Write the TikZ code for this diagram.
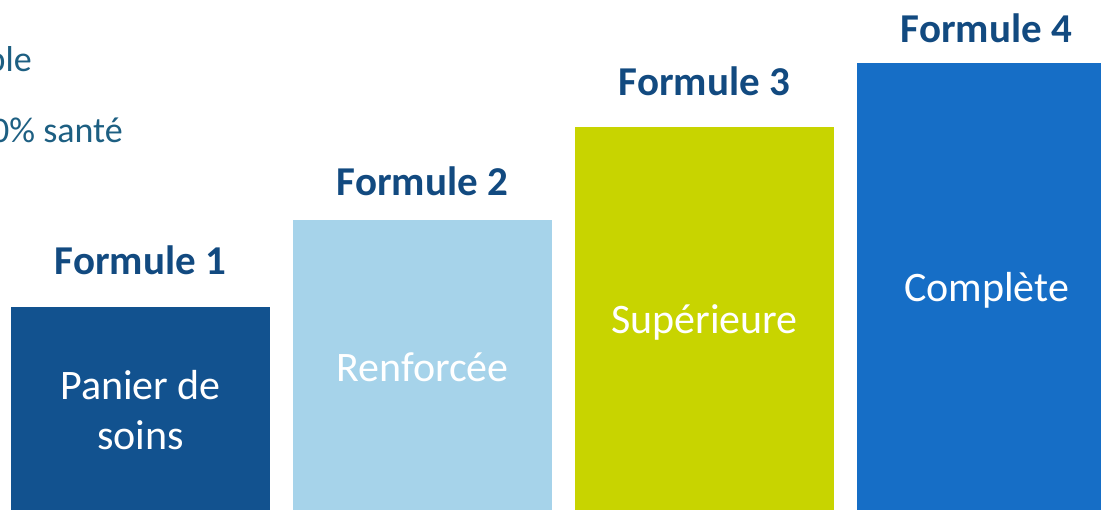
\documentclass[tikz,border=0pt]{standalone}
\usepackage{fontspec}
\setmainfont{Carlito}
\definecolor{titlecol}{HTML}{124A80}
\definecolor{sidecol}{HTML}{1D5F82}
\definecolor{barone}{HTML}{12528F}
\definecolor{bartwo}{HTML}{A6D3EA}
\definecolor{barthree}{HTML}{C8D400}
\definecolor{barfour}{HTML}{166EC6}
\tikzset{
  barbox/.style={rectangle, draw=none, anchor=north west, minimum width=259pt, inner sep=0pt, outer sep=0pt},
  titletext/.style={anchor=base, inner sep=0pt, text=titlecol, font=\fontsize{41}{49}\selectfont\bfseries},
  bartext/.style={anchor=base, inner sep=0pt, text=white, font=\fontsize{42}{50}\selectfont},
  sidetext/.style={anchor=base east, inner sep=0pt, text=sidecol, font=\fontsize{36}{43}\selectfont}
}
\begin{document}
\begin{tikzpicture}[x=1pt,y=-1pt]
\useasboundingbox (0,0) rectangle (1101,510);
\clip (0,0) rectangle (1101,510);
\fill[white] (0,0) rectangle (1101,510);
% bars
\node[barbox, fill=barone, minimum height=203pt] (b1) at (11,307) {};
\node[barbox, fill=bartwo, minimum height=290pt] (b2) at (293,220) {};
\node[barbox, fill=barthree, minimum height=383pt] (b3) at (575,127) {};
\node[barbox, fill=barfour, minimum height=447pt] (b4) at (857,63) {};
% titles
\node[titletext] (t1) at (140.5,275) {Formule 1};
\node[titletext] (t2) at (422.5,196) {Formule 2};
\node[titletext] (t3) at (704.5,96) {Formule 3};
\node[titletext] (t4) at (986.5,43) {Formule 4};
% bar texts
\node[bartext] (l1a) at (140.5,400) {Panier de};
\node[bartext] (l1b) at (140.5,450) {soins};
\node[bartext] (l2) at (422.5,382) {Renforcée};
\node[bartext] (l3) at (704.5,334) {Supérieure};
\node[bartext] (l4) at (986.5,302) {Complète};
% side texts
\node[sidetext] (s1) at (32,72) {ble};
\node[sidetext] (s2) at (123,143) {0\% santé};
\end{tikzpicture}
\end{document}
